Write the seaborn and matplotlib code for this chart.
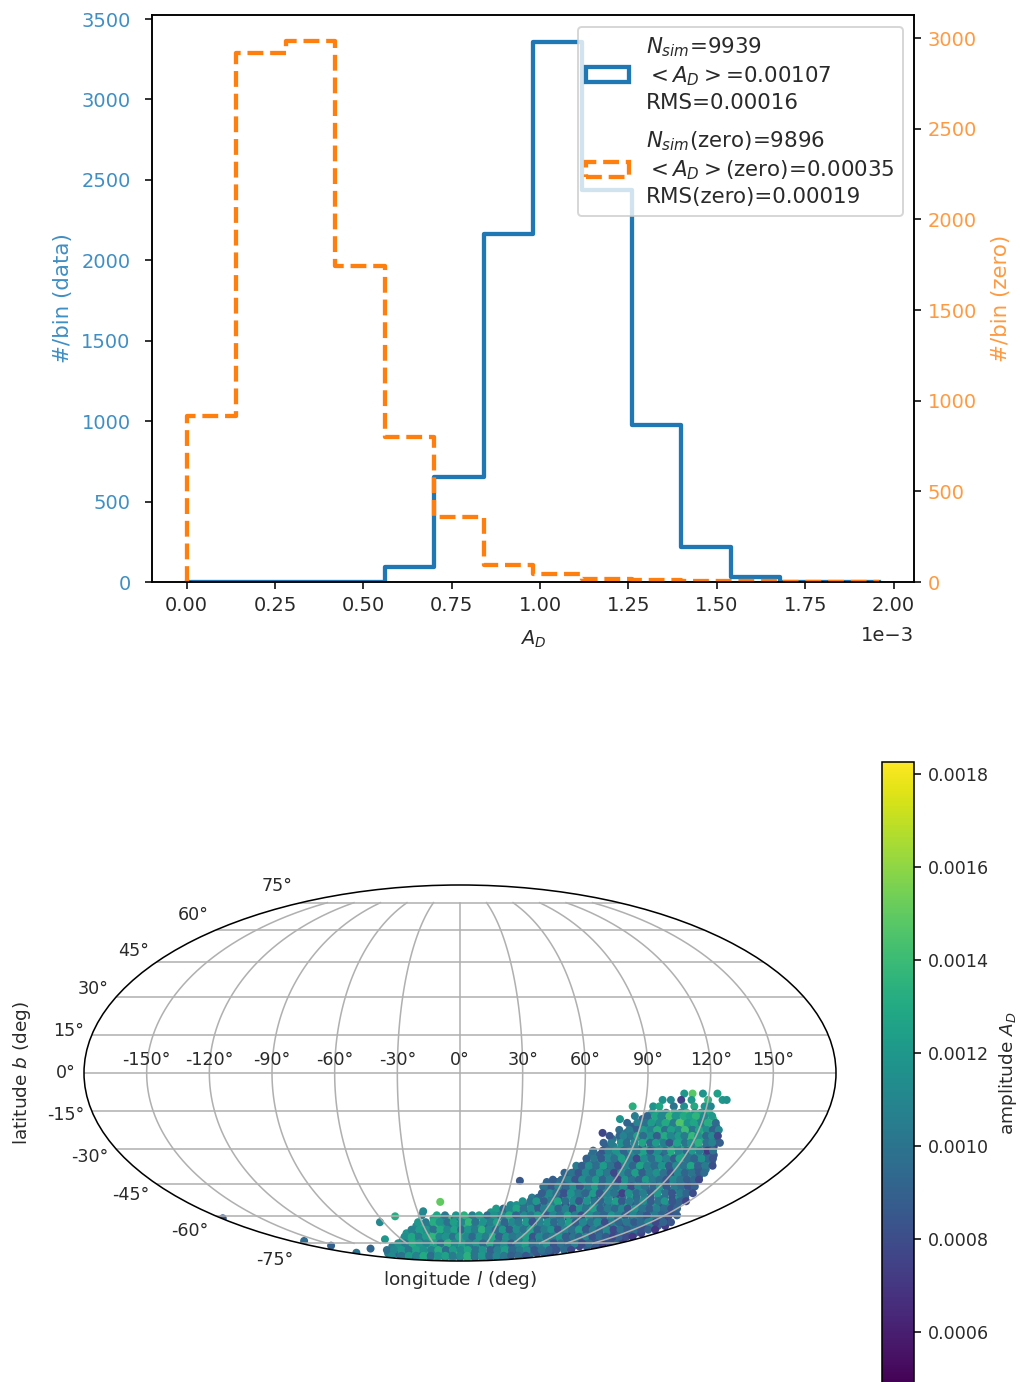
import numpy as np
import seaborn as sns
import matplotlib.pyplot as plt
from matplotlib.cm import ScalarMappable
from matplotlib.colors import Normalize
from matplotlib.patches import Patch
from matplotlib.transforms import Affine2D

BLUE = '#1f77b4'
ORANGE = '#ff7f0e'
BLUE_TEXT = '#3f8fc4'
ORANGE_TEXT = '#ff9a40'

bin_edges = [0.0, 0.14, 0.28, 0.42, 0.56, 0.70, 0.84, 0.98, 1.12, 1.26, 1.40, 1.54, 1.68, 1.82, 1.96]
data_counts = [0, 0, 0, 0, 95, 655, 2165, 3360, 2435, 975, 215, 30, 3, 0]
zero_counts = [915, 2920, 2985, 1740, 800, 358, 94, 44, 15, 10, 6, 3, 2, 1]

label_data = '$N_{sim}$=9939\n$<A_D>$=0.00107\nRMS=0.00016'
label_zero = '$N_{sim}$(zero)=9896\n$<A_D>$(zero)=0.00035\nRMS(zero)=0.00019'

row_lat = [-8, -10.5, -13, -15.5, -18, -21, -23.5, -26, -29, -32.5, -35.5, -38.5, -41.5,
           -44.5, -47.5, -51, -54.5, -58, -61, -65, -69, -73, -77, -82, -86]
row_lon = [
    [108, 112, 117, 124],
    [98, 102, 107, 112, 120, 127, 129],
    [84, 94, 97, 104, 109, 114, 119, 122],
    [94, 98, 101, 105, 108, 111, 115, 118, 122],
    [79, 90, 93, 97, 100, 104, 107, 111, 114, 118, 121, 125],
    [86, 90, 93, 97, 100, 104, 107, 111, 114, 118, 121, 125, 128],
    [72, 84, 87, 91, 94, 98, 101, 105, 108, 112, 115, 119, 122, 126, 129],
    [78, 82, 85, 89, 93, 96, 100, 103, 107, 110, 114, 118, 121, 125, 128, 131],
    [76, 80, 84, 87, 91, 95, 99, 102, 106, 110, 113, 117, 121, 124, 128, 132],
    [70, 74, 78, 82, 85, 89, 93, 97, 101, 104, 108, 112, 116, 119, 123, 127, 131, 135],
    [69, 73, 77, 81, 85, 89, 93, 97, 101, 105, 109, 113, 117, 121, 125, 129, 133, 137],
    [65, 69, 73, 77, 81, 85, 89, 93, 97, 101, 105, 109, 113, 117, 121, 125, 129, 133, 137],
    [61, 65, 69, 73, 77, 81, 85, 89, 93, 97, 101, 105, 109, 113, 117, 121, 125, 129, 133, 137],
    [57, 61, 65, 69, 73, 77, 81, 85, 90, 94, 98, 102, 106, 110, 114, 118, 122, 126, 130, 134, 138],
    [53, 57, 62, 66, 70, 75, 79, 83, 88, 92, 96, 101, 105, 109, 114, 118, 122, 127, 131, 135, 140],
    [46, 50, 55, 59, 64, 68, 73, 77, 82, 86, 91, 95, 100, 104, 109, 113, 118, 122, 127, 131, 136, 140, 144],
    [34, 38, 43, 48, 52, 57, 62, 66, 71, 76, 80, 85, 90, 94, 99, 104, 108, 113, 118, 122, 127, 132, 136, 141, 146],
    [22, 27, 32, 36, 41, 46, 51, 56, 61, 66, 70, 75, 80, 85, 90, 95, 100, 105, 109, 114, 119, 124, 129, 134, 139,
     143, 148, 153],
    [-20, -14, -9, -4, 2, 7, 12, 18, 23, 28, 34, 39, 44, 50, 55, 60, 66, 71, 76, 82, 87, 92, 98, 103, 108, 114,
     119, 124, 130, 135, 140, 146, 151, 156],
    [-36, -30, -25, -19, -13, -8, -2, 4, 9, 15, 21, 26, 32, 38, 43, 49, 55, 60, 66, 72, 77, 83, 89, 94, 100, 106,
     111, 117, 123, 128, 134, 140, 145, 151, 157, 163, 169],
    [-49, -43, -36, -30, -24, -17, -11, -5, 2, 8, 14, 21, 27, 33, 40, 46, 52, 59, 65, 71, 78, 84, 90, 97, 103, 109,
     116, 122, 128, 135, 141, 147, 154, 160, 166],
    [-60, -53, -46, -39, -31, -24, -17, -10, -3, 4, 12, 19, 26, 33, 40, 48, 55, 62, 69, 76, 84, 91, 98, 105, 112,
     120, 127, 134, 141, 148, 156, 163, 170],
    [-84, -75, -67, -58, -49, -41, -32, -24, -15, -6, 2, 11, 19, 28, 37, 45, 54, 62, 71, 80, 88, 97, 105, 114, 123,
     131, 140, 148, 157, 166, 174],
    [-122, -110, -99, -87, -76, -64, -53, -41, -30, -18, -7, 5, 16, 28, 39, 51, 62, 74, 85, 97, 108, 120, 131, 143, 154],
    [-160, -140, -120, -100, -80, -60, -40, -20, 0, 20, 40, 60, 80, 100, 120],
]
row_amp = [
    [120, 148, 118, 125],
    [118, 112, 74, 120, 135, 120, 116],
    [133, 118, 128, 100, 115, 130, 118, 110],
    [118, 124, 110, 130, 122, 140, 116, 126, 128],
    [118, 90, 105, 128, 100, 135, 118, 142, 122, 110, 128, 140],
    [88, 100, 115, 95, 126, 110, 120, 138, 105, 125, 116, 135, 98],
    [76, 98, 110, 92, 118, 104, 126, 114, 96, 132, 120, 108, 136, 116, 88],
    [100, 112, 95, 120, 104, 125, 88, 115, 130, 108, 122, 140, 112, 128, 105, 92],
    [92, 108, 118, 98, 112, 86, 126, 104, 118, 135, 110, 128, 100, 124, 96, 80],
    [98, 88, 112, 104, 120, 94, 110, 128, 100, 118, 92, 132, 108, 122, 100, 114, 90, 84],
    [105, 92, 116, 100, 84, 122, 108, 96, 130, 110, 88, 118, 102, 126, 94, 110, 86, 112],
    [90, 110, 100, 120, 88, 105, 96, 125, 112, 78, 116, 100, 134, 92, 108, 120, 98, 86, 100],
    [86, 104, 96, 116, 108, 90, 122, 100, 110, 84, 128, 104, 94, 118, 106, 88, 112, 96, 120, 92],
    [100, 88, 112, 94, 120, 104, 82, 110, 98, 126, 90, 108, 118, 96, 114, 86, 100, 122, 92, 104, 88],
    [96, 110, 86, 118, 100, 124, 92, 108, 114, 80, 120, 98, 106, 128, 90, 112, 102, 84, 116, 94, 100],
    [104, 92, 114, 100, 84, 120, 108, 96, 126, 88, 110, 118, 78, 102, 124, 94, 112, 86, 106, 98, 82, 116, 92],
    [112, 118, 96, 106, 88, 122, 100, 114, 80, 108, 130, 94, 104, 118, 90, 112, 100, 126, 86, 108, 96, 120, 84, 104, 90],
    [120, 108, 96, 116, 104, 84, 126, 100, 112, 90, 118, 106, 76, 110, 124, 98, 114, 88, 104, 120, 94, 108, 82, 116,
     100, 90, 112, 86],
    [124, 110, 142, 100, 116, 128, 96, 120, 108, 88, 114, 130, 100, 118, 84, 110, 122, 96, 108, 76, 116, 100, 126, 90,
     112, 104, 82, 118, 96, 108, 88, 112, 84, 74],
    [112, 128, 104, 136, 120, 100, 116, 132, 108, 124, 94, 118, 104, 86, 122, 110, 96, 128, 102, 114, 88, 106, 120, 92,
     110, 78, 116, 100, 90, 112, 84, 104, 96, 80, 108, 88, 72],
    [118, 104, 126, 112, 134, 96, 122, 108, 130, 100, 116, 90, 124, 106, 82, 118, 98, 112, 128, 94, 108, 86, 120, 102,
     76, 114, 96, 110, 88, 104, 92, 78, 100, 86, 76],
    [110, 126, 116, 102, 132, 120, 108, 138, 114, 124, 98, 118, 104, 128, 90, 112, 122, 96, 106, 84, 116, 100, 94, 120,
     88, 108, 98, 80, 104, 92, 86, 96, 74],
    [106, 120, 112, 128, 116, 136, 108, 124, 118, 100, 130, 114, 96, 122, 106, 88, 118, 110, 98, 126, 92, 104, 114, 84,
     100, 90, 96, 78, 88, 80, 72],
    [108, 92, 118, 110, 124, 100, 130, 116, 122, 106, 134, 112, 98, 126, 104, 116, 94, 120, 100, 88, 110, 96, 84, 92, 78],
    [104, 116, 96, 124, 110, 128, 106, 118, 100, 132, 94, 114, 102, 90, 108],
]
# rows in between the first ones, the blob is nearly solid
mid_lat = [-16.8, -19.5, -22.3, -24.7, -27.5, -30.7, -34, -37, -40, -43, -46, -49, -52.7, -56.2, -59.5, -63, -67,
           -71, -75, -79.5, -84]
mid_lon = [
    [86, 92, 96, 99, 103, 106, 110, 113, 116, 120, 124],
    [83, 88, 92, 95, 99, 102, 106, 109, 113, 116, 120, 123, 127],
    [80, 85, 89, 92, 96, 99, 103, 106, 110, 113, 117, 120, 124, 127, 130],
    [76, 81, 83, 87, 90, 93, 97, 100, 104, 107, 111, 114, 118, 121, 125, 128, 131],
    [74, 78, 83, 86, 90, 94, 98, 101, 105, 108, 112, 116, 119, 123, 127, 130, 134],
    [70, 75, 78, 82, 86, 90, 93, 97, 100, 104, 108, 111, 115, 119, 122, 126, 130, 133],
    [68, 72, 76, 80, 83, 87, 91, 95, 99, 103, 107, 111, 115, 118, 122, 126, 130, 134, 136],
    [64, 67, 71, 75, 79, 83, 87, 91, 95, 99, 103, 107, 111, 115, 119, 123, 127, 131, 135, 139],
    [59, 63, 67, 71, 75, 79, 83, 87, 91, 95, 99, 103, 107, 111, 115, 119, 123, 127, 131, 135, 138],
    [54, 59, 63, 67, 71, 75, 79, 83, 87, 92, 96, 100, 104, 108, 112, 116, 120, 124, 128, 132, 136, 139],
    [50, 55, 59, 64, 68, 72, 77, 81, 85, 90, 94, 98, 103, 107, 111, 116, 120, 124, 129, 133, 137, 141],
    [51, 56, 60, 65, 69, 74, 78, 83, 87, 92, 96, 101, 105, 110, 114, 119, 123, 128, 132, 137, 141, 145],
    [41, 46, 50, 55, 60, 64, 69, 74, 78, 83, 88, 92, 97, 102, 106, 111, 116, 120, 125, 130, 134, 139, 144, 148],
    [25, 30, 34, 39, 44, 49, 54, 58, 63, 68, 73, 78, 83, 87, 92, 97, 102, 107, 112, 116, 121, 126, 131, 136,
     141, 146, 150],
    [-28, -17, -11, -3, 3, 9, 14, 20, 25, 31, 36, 41, 47, 52, 57, 63, 68, 73, 79, 84, 89, 95, 100, 105, 111, 116, 121,
     127, 132, 137, 143, 148, 153, 159],
    [-33, -27, -21, -16, -10, -5, 1, 7, 12, 18, 24, 29, 35, 41, 46, 52, 57, 63, 69, 74, 80, 86, 91, 97, 103, 108, 114,
     120, 125, 131, 137, 142, 148, 154, 160, 166],
    [-42, -35, -29, -23, -17, -11, -5, 1, 7, 13, 19, 25, 31, 37, 43, 49, 55, 61, 67, 73, 79, 85, 91, 97, 103, 109, 115,
     121, 127, 133, 139, 145, 151, 157, 163, 169],
    [-54, -47, -40, -33, -27, -20, -14, -7, -1, 6, 12, 19, 25, 32, 38, 45, 51, 58, 64, 71, 77, 84, 90, 97, 103, 110,
     116, 123, 129, 136, 142, 149, 155, 162, 168],
    [-70, -62, -54, -46, -38, -30, -22, -14, -6, 2, 10, 18, 26, 34, 42, 50, 58, 66, 74, 82, 90, 98, 106, 114, 122, 130,
     138, 146, 154, 162, 170],
    [-104, -94, -83, -73, -62, -52, -41, -31, -20, -10, 1, 11, 22, 32, 43, 53, 64, 74, 85, 95, 106, 116, 127, 137, 148,
     158],
    [-140, -120, -105, -90, -75, -60, -45, -30, -15, 0, 15, 30, 45, 60, 75, 90, 105, 120, 135],
]
mid_amp = [
    [105, 92, 128, 110, 142, 118, 130, 124, 136, 112, 120],
    [92, 108, 98, 122, 112, 130, 104, 146, 118, 128, 108, 132, 95],
    [96, 104, 88, 120, 108, 132, 98, 124, 112, 140, 102, 126, 114, 90, 110],
    [84, 92, 108, 100, 124, 96, 116, 88, 130, 110, 122, 104, 138, 118, 94, 112, 78],
    [90, 104, 116, 96, 110, 128, 92, 122, 106, 84, 126, 100, 116, 134, 98, 108, 88],
    [96, 84, 106, 118, 92, 112, 102, 126, 86, 114, 98, 130, 108, 94, 120, 104, 72, 100],
    [90, 102, 86, 112, 98, 124, 104, 78, 114, 96, 120, 108, 88, 126, 100, 92, 116, 94, 84],
    [104, 88, 114, 96, 122, 100, 82, 110, 92, 126, 106, 96, 118, 86, 112, 100, 128, 90, 104, 80],
    [92, 100, 84, 110, 94, 118, 102, 78, 112, 96, 124, 88, 106, 116, 98, 82, 110, 92, 100, 86, 96],
    [88, 96, 106, 84, 114, 100, 120, 92, 108, 76, 118, 100, 90, 122, 104, 96, 84, 112, 100, 88, 94, 78],
    [100, 86, 110, 94, 116, 84, 104, 124, 92, 108, 98, 116, 80, 112, 100, 92, 120, 86, 104, 96, 82, 90],
    [88, 112, 98, 82, 118, 102, 92, 122, 86, 108, 100, 74, 116, 94, 106, 88, 120, 98, 84, 104, 92, 80],
    [116, 100, 120, 88, 106, 128, 96, 112, 84, 118, 100, 92, 110, 124, 86, 104, 96, 114, 88, 100, 120, 84, 92, 76],
    [122, 94, 110, 128, 98, 114, 86, 106, 120, 92, 108, 80, 116, 100, 124, 90, 104, 94, 112, 84, 118, 100, 88,
     108, 96, 82, 92],
    [110, 128, 102, 118, 134, 106, 124, 96, 116, 108, 130, 92, 112, 100, 120, 86, 110, 96, 124, 104, 82, 114, 100, 92,
     118, 106, 88, 110, 96, 84, 104, 92, 80, 88],
    [120, 104, 132, 116, 98, 124, 110, 138, 100, 118, 106, 126, 92, 112, 102, 120, 84, 108, 116, 94, 104, 124, 88, 110,
     98, 114, 80, 106, 92, 102, 86, 96, 110, 78, 92, 84],
    [108, 122, 116, 100, 130, 112, 126, 94, 118, 104, 134, 110, 96, 120, 88, 114, 100, 124, 92, 106, 118, 84, 110, 98,
     122, 86, 104, 92, 112, 78, 100, 88, 96, 82, 90, 70],
    [114, 128, 104, 122, 136, 110, 118, 100, 126, 112, 94, 120, 106, 130, 90, 116, 102, 108, 124, 84, 112, 96, 104, 118,
     88, 100, 92, 110, 82, 96, 86, 76, 90, 80, 72],
    [116, 104, 130, 120, 110, 126, 98, 134, 112, 122, 106, 118, 94, 128, 100, 114, 88, 110, 124, 96, 104, 116, 84, 100,
     92, 108, 80, 96, 86, 74, 82],
    [98, 110, 120, 102, 126, 116, 108, 132, 96, 122, 112, 128, 100, 118, 90, 108, 124, 94, 104, 114, 86, 100, 92, 84,
     96, 78],
    [112, 100, 122, 108, 130, 96, 118, 126, 104, 114, 134, 100, 120, 92, 110, 102, 88, 96, 84],
]
stray_lat = [-53, -57.5, -43.5, -44, -44, -78.5, -63, -60, -72.5, -61, -73.5, -76.5, -81.5]
stray_lon = [-13, -26, 35, 51, 57, -120, -63, -48, -77, -179, -166, -156, -169]
stray_amp = [150, 112, 85, 92, 100, 92, 112, 132, 120, 85, 95, 90, 100]

AMP_MIN = 0.000488
AMP_MAX = 0.001826


def step_hist(counts, ax, **kwargs):
    # a tiny empty bin in front so the step line closes down to zero at the left edge
    edges = [-1e-8] + [e * 1e-3 for e in bin_edges]
    centers = [0.5 * (a + b) for a, b in zip(edges[:-1], edges[1:])]
    sns.histplot(x=centers, weights=[0] + counts, bins=edges, element='step', fill=False,
                 linewidth=2.2, ax=ax, **kwargs)


def plot_hist(fig):
    ax = fig.add_axes([152 / 1020, 1 - 582 / 1382, 762 / 1020, 567 / 1382])
    ax2 = ax.twinx()
    step_hist(data_counts, ax, color=BLUE)
    step_hist(zero_counts, ax2, color=ORANGE, linestyle='--')
    ax.set_xlim(-0.098e-3, 2.058e-3)
    ax.set_ylim(0, 3525)
    ax2.set_ylim(0, 3127)
    ax.ticklabel_format(axis='x', style='sci', scilimits=(0, 0))
    ax.xaxis.OFFSETTEXTPAD = 6
    ax.set_xlabel('$A_D$', labelpad=7)
    ax.set_ylabel('#/bin (data)', color=BLUE_TEXT, fontsize=11, labelpad=4)
    ax2.set_ylabel('#/bin (zero)', color=ORANGE_TEXT, fontsize=11, labelpad=7)
    ax.tick_params(axis='y', labelcolor=BLUE_TEXT, pad=7.5)
    ax2.tick_params(axis='y', labelcolor=ORANGE_TEXT)
    handles = [Patch(fill=False, edgecolor=BLUE, linewidth=2.2),
               Patch(fill=False, edgecolor=ORANGE, linewidth=2.2, linestyle='--')]
    leg = ax2.legend(handles, [label_data, label_zero], loc='upper right', fontsize=11,
                     labelspacing=0.78, bbox_to_anchor=(1, 1 - 1.5 / 567))
    for t in leg.get_texts():
        t.set_linespacing(1.3)


def plot_sky(fig):
    ax = fig.add_axes([84 / 1020, 1 - 1261 / 1382, 752 / 1020, 376 / 1382], projection='mollweide')
    lat, lon, amp = list(stray_lat), list(stray_lon), list(stray_amp)
    for rows, lons, amps in [(row_lat, row_lon, row_amp), (mid_lat, mid_lon, mid_amp)]:
        for row, r_lon, r_amp in zip(rows, lons, amps):
            lat += [row] * len(r_lon)
            lon += r_lon
            amp += r_amp
    sns.scatterplot(x=np.radians(lon), y=np.radians(lat), hue=np.array(amp) * 1e-5, palette='viridis',
                    hue_norm=(AMP_MIN, AMP_MAX), s=17, linewidth=0, legend=False, ax=ax)
    ax.grid(True)
    ax.tick_params(labelsize=9)
    ax._yaxis_text1_transform = ax._yaxis_text1_transform + Affine2D().translate(-3, 0)
    ax.set_xlabel('longitude $l$ (deg)', fontsize=9.5)
    ax.set_ylabel('latitude $b$ (deg)', fontsize=9.5, labelpad=7)

    cax = fig.add_axes([882 / 1020, -2 / 1382, 32 / 1020, 622 / 1382])
    sm = ScalarMappable(norm=Normalize(AMP_MIN, AMP_MAX), cmap='viridis')
    cbar = fig.colorbar(sm, cax=cax)
    cbar.set_ticks([0.0006, 0.0008, 0.0010, 0.0012, 0.0014, 0.0016, 0.0018])
    cbar.ax.tick_params(labelsize=9)
    cbar.set_label('amplitude $A_D$', fontsize=9.5)


def main():
    plt.rcParams['text.color'] = '#2a2a2a'
    plt.rcParams['xtick.labelcolor'] = '#2a2a2a'
    plt.rcParams['ytick.labelcolor'] = '#2a2a2a'
    plt.rcParams['axes.labelcolor'] = '#2a2a2a'
    fig = plt.figure(figsize=(1020 / 140, 1382 / 140), dpi=140)
    plot_hist(fig)
    plot_sky(fig)
    fig.savefig('out.png', dpi=140)


if __name__ == '__main__':
    main()
